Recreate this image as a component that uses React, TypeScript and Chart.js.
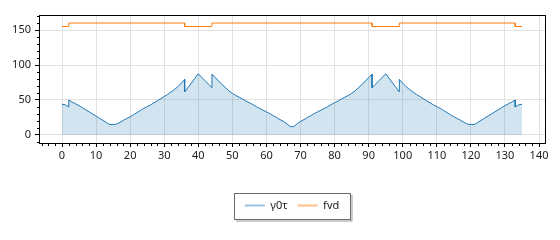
import React, { useEffect, useRef } from 'react';
import { Chart, registerables } from 'chart.js';

Chart.register(...registerables);

const seriesLabels = ['γ0τ', 'fvd'];

const y0tX = [
  0, 1, 2, 2, 3, 4, 5, 6, 7, 8, 9, 10, 11, 12, 13, 14, 15,
  16, 17, 18, 19, 20, 21, 22, 23, 24, 25, 26, 27, 28, 29, 30, 31, 32, 33, 34, 35, 36, 36,
  37, 38, 39, 40, 41, 42, 43, 44, 44,
  45, 46, 47, 48, 49, 50, 51, 52, 53, 54, 55, 56, 57, 58, 59, 60, 61, 62, 63, 64, 65, 66, 67,
  68, 69, 70, 71, 72, 73, 74, 75, 76, 77, 78, 79, 80, 81, 82, 83, 84, 85, 86, 87, 88, 89, 90, 91, 91,
  92, 93, 94, 95, 96, 97, 98, 99, 99,
  100, 101, 102, 103, 104, 105, 106, 107, 108, 109, 110, 111, 112, 113, 114, 115, 116, 117, 118, 119, 120, 121,
  122, 123, 124, 125, 126, 127, 128, 129, 130, 131, 132, 133, 133, 134, 135,
];

const y0tY = [
  44, 43, 40, 50, 47, 44.5, 42, 39, 36, 33, 30, 27, 24, 21, 18, 15, 15,
  15.5, 18, 21, 23.5, 26, 29, 32, 35, 38, 40.5, 43, 46, 49, 52, 55, 58, 61.5, 65, 69, 74, 79.5, 61.5,
  68, 74.5, 81, 87.5, 82.5, 77.5, 72.5, 67.5, 87,
  82, 77, 72, 67.5, 63, 59.5, 56.5, 54, 51.5, 48.5, 46, 43.5, 40.5, 38, 35.5, 33, 30.5, 27.5, 25, 22, 19.5, 16, 12,
  12, 16, 19.5, 22, 25, 27.5, 30.5, 33, 35.5, 38, 40.5, 43.5, 46, 48.5, 51.5, 54, 56.5, 59.5, 63, 67.5, 72, 77, 82, 87, 67.5,
  72.5, 77.5, 82.5, 87.5, 81, 74.5, 68, 61.5, 79.5,
  74, 69, 65, 61.5, 58, 55, 52, 49, 46, 43, 40.5, 38, 35, 32, 29, 26, 23.5, 21, 18, 15.5, 15, 15,
  18, 21, 24, 27, 30, 33, 36, 39, 42, 44.5, 47, 50, 40, 43, 44,
];

const fvdX = [0, 2, 2, 36, 36, 44, 44, 91, 91, 99, 99, 133, 133, 135];
const fvdY = [155, 155, 160, 160, 155, 155, 160, 160, 155, 155, 160, 160, 155, 155];

const xTicks = [0, 10, 20, 30, 40, 50, 60, 70, 80, 90, 100, 110, 120, 130, 140];
const yTicks = [0, 50, 100, 150];

const FONT = { family: '"Noto Sans", "Open Sans", sans-serif', size: 11 };
const legendSampleColors = ['rgba(31,119,180,0.45)', 'rgba(255,127,14,0.5)'];

const decorPlugin = {
  id: 'decor',
  afterLayout(chart: any) {
    const lg = chart.legend;
    const a = chart.chartArea;
    if (lg) {
      lg.left = a.left;
      lg.right = a.right;
      lg.width = a.right - a.left;
    }
  },
  afterDatasetsDraw(chart: any) {
    const { ctx, chartArea: a } = chart;
    ctx.save();
    ctx.strokeStyle = '#000';
    ctx.lineWidth = 1;
    ctx.strokeRect(a.left + 0.5, a.top + 0.5, a.right - a.left, a.bottom - a.top);
    ctx.restore();
  },
  afterDraw(chart: any) {
    const { ctx, chartArea: a, scales } = chart;
    ctx.save();
    ctx.strokeStyle = '#000';
    ctx.lineWidth = 1;
    const xs = scales.x;
    ctx.beginPath();
    for (let v = Math.ceil(xs.min / 2) * 2; v <= xs.max; v += 2) {
      if (v % 10 === 0) continue;
      const px = Math.round(xs.getPixelForValue(v)) + 0.5;
      ctx.moveTo(px, a.bottom + 1);
      ctx.lineTo(px, a.bottom + 3);
    }
    const ys = scales.y;
    for (let v = Math.ceil(ys.min / 10) * 10; v <= ys.max; v += 10) {
      if (v % 50 === 0) continue;
      const py = Math.round(ys.getPixelForValue(v)) + 0.5;
      ctx.moveTo(a.left - 2, py);
      ctx.lineTo(a.left, py);
    }
    ctx.stroke();

    const lg = chart.legend;
    const hb = lg && lg.legendHitBoxes;
    if (hb && hb.length) {
      const last = hb[hb.length - 1];
      const l = Math.round(hb[0].left - 11);
      const r = Math.round(last.left + last.width + 11);
      const cy = hb[0].top + hb[0].height / 2;
      const t = Math.round(cy - 13);
      const b = Math.round(cy + 13);
      ctx.fillStyle = 'rgba(0,0,0,0.2)';
      ctx.fillRect(l + 2, b + 1, r - l, 2);
      ctx.fillRect(r + 1, t + 2, 2, b - t);
      ctx.strokeStyle = '#6a6a6a';
      ctx.strokeRect(l + 0.5, t + 0.5, r - l, b - t);
    }
    ctx.restore();
  },
};

export default function App() {
  const ref = useRef<HTMLCanvasElement | null>(null);

  useEffect(() => {
    if (!ref.current) return;
    const chart = new Chart(ref.current, {
      type: 'line',
      data: {
        datasets: [
          {
            label: seriesLabels[0],
            data: y0tX.map((x, i) => ({ x, y: y0tY[i] })),
            borderColor: '#1f77b4',
            backgroundColor: 'rgba(31,119,180,0.2)',
            borderWidth: 1,
            fill: 'origin',
            pointRadius: 0,
            tension: 0,
          },
          {
            label: seriesLabels[1],
            data: fvdX.map((x, i) => ({ x, y: fvdY[i] })),
            borderColor: '#ff7f0e',
            backgroundColor: '#ff7f0e',
            borderWidth: 1,
            fill: false,
            pointRadius: 0,
            tension: 0,
          },
        ],
      },
      options: {
        responsive: false,
        animation: false,
        events: [],
        layout: { padding: { left: 2, right: 15, top: 15, bottom: 19 } },
        scales: {
          x: {
            type: 'linear',
            min: -6.75,
            max: 141.75,
            afterBuildTicks: (s: any) => {
              s.ticks = xTicks.map((v) => ({ value: v }));
            },
            afterFit: (s: any) => {
              s.height = 47;
            },
            border: { display: false },
            grid: { color: '#e2e2e2', tickColor: '#000', tickLength: 4 },
            ticks: { font: FONT, color: '#222', padding: 2, maxRotation: 0, autoSkip: false },
          },
          y: {
            type: 'linear',
            min: -11.43,
            max: 171.43,
            afterBuildTicks: (s: any) => {
              s.ticks = yTicks.map((v) => ({ value: v }));
            },
            afterFit: (s: any) => {
              s.width = 37;
            },
            border: { display: false },
            grid: { color: '#e2e2e2', tickColor: '#000', tickLength: 4 },
            ticks: { font: FONT, color: '#222', padding: 4 },
          },
        },
        plugins: {
          legend: {
            position: 'bottom',
            maxHeight: 31,
            labels: {
              font: FONT,
              color: '#222',
              usePointStyle: true,
              pointStyle: 'line',
              pointStyleWidth: 20,
              padding: 10,
              generateLabels: (c: any) => {
                const items = Chart.defaults.plugins.legend.labels.generateLabels(c);
                return items.map((it: any, i: number) => ({
                  ...it,
                  strokeStyle: legendSampleColors[i],
                  lineWidth: 2,
                }));
              },
            },
          },
          tooltip: { enabled: false },
        },
      } as any,
      plugins: [decorPlugin],
    });
    return () => chart.destroy();
  }, []);

  return (
    <div style={{ position: 'absolute', left: 0, top: 0, width: 560, height: 240, background: '#fff' }}>
      <canvas ref={ref} width={560} height={240} style={{ display: 'block' }} />
    </div>
  );
}
